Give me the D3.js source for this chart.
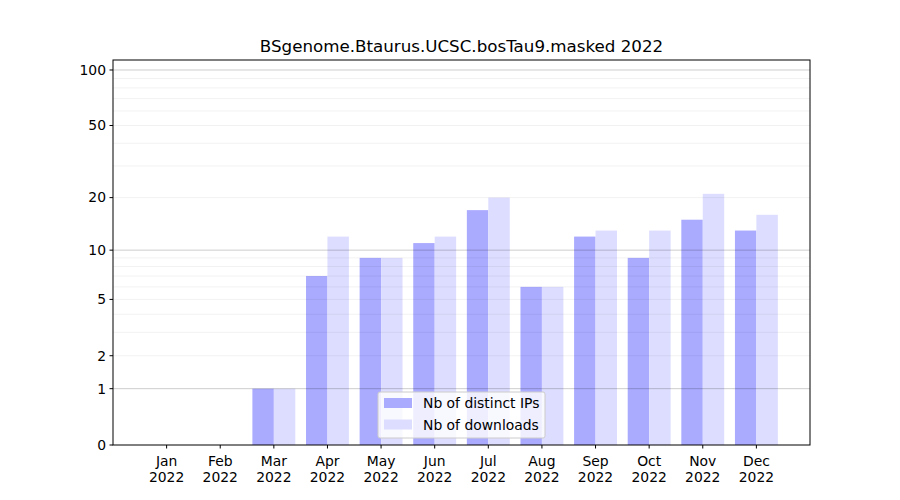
<!DOCTYPE html>
<html><head><meta charset="utf-8">
<script src="https://cdn.jsdelivr.net/npm/d3@7"></script>
<style>body{margin:0;background:#fff}svg{font-family:"DejaVu Sans",sans-serif}</style>
</head><body><svg id="c" width="900" height="500"></svg>
<script>
const months = ["Jan","Feb","Mar","Apr","May","Jun","Jul","Aug","Sep","Oct","Nov","Dec"];
const year = "2022";
const distinctIPs = [0,0,1,7,9,11,17,6,12,9,15,13];
const downloads = [0,0,1,12,9,12,20,6,13,13,21,16];
const yTickValues = [0,1,2,5,10,20,50,100];
const majorGrid = [1,10,100];
const minorGrid = [2,3,4,5,6,7,8,9,20,30,40,50,60,70,80,90];
const title = "BSgenome.Btaurus.UCSC.bosTau9.masked 2022";
const seriesNames = ["Nb of distinct IPs","Nb of downloads"];
const colors = ["#aaaaff","#ddddff"];

const L=113,R=810,T=60,B=445;
const FS=13.9;
const svg=d3.select("#c");
const x=d3.scaleLinear().domain([-1,12]).range([L,R]);
const t=v=>Math.log10(1+v);
const ys=d3.scaleLinear().domain([0,2.0577]).range([B,T]);
const y=v=>ys(t(v));
const bw=(x(1)-x(0))*0.4;

// bars
[distinctIPs,downloads].forEach((arr,si)=>{
  svg.append("g").selectAll("rect").data(arr).join("rect")
    .attr("x",(d,i)=>x(i)-bw+si*bw).attr("width",bw)
    .attr("y",d=>y(d)).attr("height",d=>B-y(d))
    .attr("fill",colors[si]);
});
// grid on top
svg.append("g").selectAll("line").data(minorGrid).join("line")
  .attr("x1",L).attr("x2",R).attr("y1",d=>y(d)).attr("y2",d=>y(d))
  .attr("stroke","#000").attr("stroke-opacity",0.07).attr("stroke-width",0.8);
svg.append("g").selectAll("line").data(majorGrid).join("line")
  .attr("x1",L).attr("x2",R).attr("y1",d=>y(d)).attr("y2",d=>y(d))
  .attr("stroke","#000").attr("stroke-opacity",0.2).attr("stroke-width",1);

// frame
svg.append("rect").attr("x",L).attr("y",T).attr("width",R-L).attr("height",B-T)
  .attr("fill","none").attr("stroke","#000").attr("stroke-width",1);

// y axis
const ya=svg.append("g");
yTickValues.forEach(v=>{
  ya.append("line").attr("x1",L-3.5).attr("x2",L).attr("y1",y(v)).attr("y2",y(v)).attr("stroke","#000");
  ya.append("text").attr("x",L-7).attr("y",y(v)).attr("dy","0.35em").attr("text-anchor","end")
    .attr("font-size",FS).text(v);
});
// x axis
const xa=svg.append("g");
months.forEach((m,i)=>{
  xa.append("line").attr("x1",x(i)).attr("x2",x(i)).attr("y1",B).attr("y2",B+3.5).attr("stroke","#000");
  const tx=xa.append("text").attr("x",x(i)).attr("y",B+21).attr("text-anchor","middle").attr("font-size",FS);
  tx.append("tspan").attr("x",x(i)).text(m);
  tx.append("tspan").attr("x",x(i)).attr("dy",15.5).text(year);
});
// title
svg.append("text").attr("x",(L+R)/2).attr("y",52).attr("text-anchor","middle").attr("font-size",16.7).text(title);

// legend
const lg=svg.append("g");
lg.append("rect").attr("x",378).attr("y",392).attr("width",167).attr("height",46).attr("rx",2)
  .attr("fill","#fff").attr("fill-opacity",0.8).attr("stroke","#ccc");
seriesNames.forEach((n,i)=>{
  lg.append("rect").attr("x",384).attr("y",398+i*21.5).attr("width",28).attr("height",10).attr("fill",colors[i]);
  lg.append("text").attr("x",423).attr("y",403.5+i*21.5).attr("dy","0.35em").attr("font-size",FS).text(n);
});
</script></body></html>
